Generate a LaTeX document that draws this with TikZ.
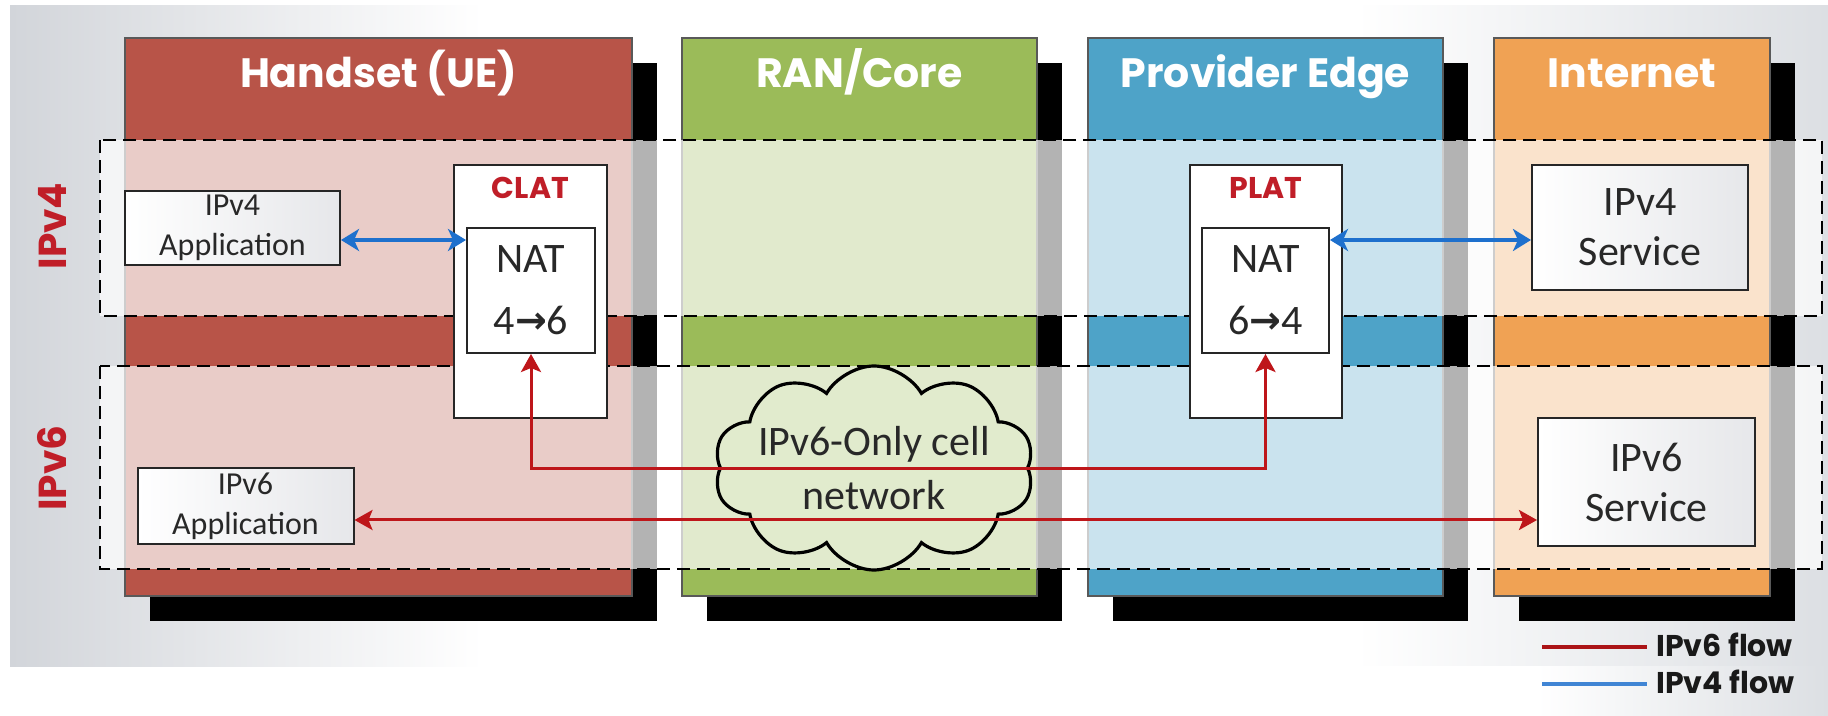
\documentclass[tikz,border=0pt]{standalone}
\usepackage{fontspec}
\setmainfont{Carlito}
\newfontfamily\gothic{Poppins}
\newfontfamily\dejavu{DejaVu Sans}
\usetikzlibrary{arrows.meta,shapes.symbols}
\definecolor{cRed}{RGB}{184,84,72}
\definecolor{cGreen}{RGB}{155,187,89}
\definecolor{cBlue}{RGB}{78,163,200}
\definecolor{cOrange}{RGB}{240,162,84}
\definecolor{lblRed}{RGB}{192,30,40}
\definecolor{arrRed}{RGB}{190,22,26}
\definecolor{arrBlue}{RGB}{30,112,205}
\definecolor{txt}{RGB}{40,40,40}
\definecolor{bgL}{RGB}{210,213,218}
\definecolor{bgR}{RGB}{220,223,227}
\definecolor{boxR}{RGB}{230,231,234}
\pgfdeclarehorizontalshading{bgshade}{100bp}{color(0bp)=(bgL); color(25bp)=(bgL); color(38bp)=(white); color(62bp)=(white); color(75bp)=(bgR); color(100bp)=(bgR)}
\pgfdeclarehorizontalshading{boxshade}{100bp}{color(0bp)=(white); color(25bp)=(white); color(75bp)=(boxR); color(100bp)=(boxR)}
\pgfdeclarehorizontalshading{cornershade}{100bp}{color(0bp)=(white); color(25bp)=(white); color(55bp)=(white); color(75bp)=(bgR); color(100bp)=(bgR)}
\begin{document}
\begin{tikzpicture}[x=0.5pt,y=-0.5pt,
  col/.style={draw=black!65,line width=0.6pt},
  band/.style={draw=black,line width=1pt,dash pattern=on 6.5pt off 3.5pt},
  hdr/.style={text=white,font=\gothic\bfseries\fontsize{20.5}{24}\selectfont,anchor=base,inner sep=0pt},
  box/.style={draw=black!85,line width=1pt,shade,shading=boxshade,inner sep=0pt,align=center,text=txt},
  natbox/.style={draw=black!85,line width=1pt,fill=white,inner sep=0pt,align=center,text=txt,
    font=\fontsize{21}{31}\selectfont},
  outerbox/.style={draw=black!85,line width=1pt,fill=white,inner sep=0pt},
  latlbl/.style={text=lblRed,font=\gothic\bfseries\fontsize{15}{18}\selectfont,anchor=base,inner sep=0pt},
  sidelbl/.style={text=lblRed,font=\gothic\bfseries\fontsize{19.5}{22}\selectfont,rotate=90,inner sep=0pt},
  blueflow/.style={draw=arrBlue,line width=2pt,{Stealth[length=9pt,width=11pt,inset=2.5pt]}-{Stealth[length=9pt,width=11pt,inset=2.5pt]}},
  redflow/.style={draw=arrRed,line width=1.5pt,{Stealth[length=9pt,width=10pt,inset=2pt]}-{Stealth[length=9pt,width=10pt,inset=2pt]}},
  legtxt/.style={text=black!90,font=\gothic\bfseries\fontsize{15}{18}\selectfont,anchor=base west,inner sep=0pt}
]
\newcommand{\natarrow}{{\dejavu\bfseries\fontsize{19}{20}\selectfont\raisebox{0.5pt}{→}}}
\useasboundingbox (0,0) rectangle (1828,716);
\fill[white] (0,0) rectangle (1828,716);
\shade[shading=bgshade] (10,6) rectangle (1828,667);
\shade[shading=cornershade] (1100,667) rectangle (1828,716);

% shadows
\fill[black] (150,63) rectangle (657,621);
\fill[black] (707,63) rectangle (1062,621);
\fill[black] (1113,63) rectangle (1468,621);
\fill[black] (1519,63) rectangle (1795,621);

% columns
\filldraw[col,fill=cRed] (125,38) rectangle (632,596);
\filldraw[col,fill=cGreen] (682,38) rectangle (1037,596);
\filldraw[col,fill=cBlue] (1088,38) rectangle (1443,596);
\filldraw[col,fill=cOrange] (1494,38) rectangle (1770,596);

% pale bands
\fill[white,opacity=0.7] (100,140) rectangle (1822,316);
\fill[white,opacity=0.7] (100,366) rectangle (1822,569);

% cloud
\node[cloud,cloud puffs=10,cloud puff arc=120,aspect=1.6,draw=black,line width=1.6pt,
  fill=cGreen!30!white,minimum width=160pt,minimum height=102pt,inner sep=0pt] (cloud) at (874,468) {};

% dashed bands
\draw[band] (100,140) rectangle (1822,316);
\draw[band] (100,366) rectangle (1822,569);

% headers
\node[hdr] (hHandset) at (378.5,88) {Handset (UE)};
\node[hdr] (hRan) at (859.5,88) {RAN/Core};
\node[hdr] (hPe) at (1265.5,88) {Provider Edge};
\node[hdr] (hNet) at (1632,88) {Internet};

% side labels
\node[sidelbl] (lv4) at (52,226) {IPv4};
\node[sidelbl] (lv6) at (52,468) {IPv6};

% boxes
\node[box,minimum width=107.5pt,minimum height=37pt,font=\fontsize{16}{20}\selectfont] (app4) at (232.5,228) {IPv4\\Application};
\node[box,minimum width=108pt,minimum height=38pt,font=\fontsize{16}{20}\selectfont] (app6) at (245.5,506) {IPv6\\Application};

\node[outerbox,minimum width=76.5pt,minimum height=126.5pt] (clat) at (530.5,291.5) {};
\node[latlbl] (clatlbl) at (530.5,199) {CLAT};
\node[natbox,minimum width=64pt,minimum height=62.5pt] (nat1) at (531,290.5) {NAT\\4\natarrow6};

\node[outerbox,minimum width=76pt,minimum height=126.5pt] (plat) at (1266,291.5) {};
\node[latlbl] (platlbl) at (1266,199) {PLAT};
\node[natbox,minimum width=63.5pt,minimum height=62.5pt] (nat2) at (1265.5,290.5) {NAT\\6\natarrow4};

\node[box,minimum width=108pt,minimum height=62.5pt,font=\fontsize{21}{25}\selectfont] (svc4) at (1640,227.5) {IPv4\\Service};
\node[box,minimum width=108.5pt,minimum height=64pt,font=\fontsize{21}{25}\selectfont] (svc6) at (1646.5,482) {IPv6\\Service};

\node[align=center,text=txt,font=\fontsize{21}{27}\selectfont,inner sep=0pt] (cloudtxt) at (cloud.center) {IPv6-Only cell\\network};

% flows
\coordinate (y4) at (0,240);
\coordinate (y6a) at (0,469);
\coordinate (y6b) at (0,520);
\draw[blueflow] (app4.east |- y4) -- (nat1.west |- y4);
\draw[blueflow] (nat2.east |- y4) -- (svc4.west |- y4);
\draw[redflow] (nat1.south) -- (nat1.south |- y6a) -- (nat2.south |- y6a) -- (nat2.south);
\draw[redflow] (app6.east |- y6b) -- (svc6.west |- y6b);

% legend
\node[legtxt] (leg6) at (1656,657) {IPv6 flow};
\node[legtxt] (leg4) at (1656,694) {IPv4 flow};
\coordinate (l6s) at (1542,647);
\coordinate (l6e) at (1647,647);
\coordinate (l4s) at (1542,684);
\coordinate (l4e) at (1647,684);
\draw[arrRed!90!black,line width=2pt] (l6s) -- (l6e);
\draw[arrBlue!85!white,line width=2pt] (l4s) -- (l4e);
\end{tikzpicture}
\end{document}
